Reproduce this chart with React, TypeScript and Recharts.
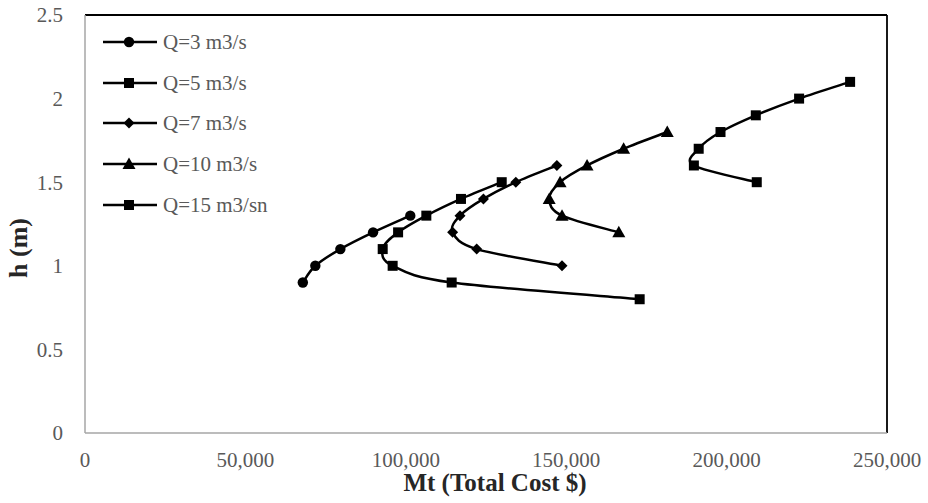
// @ts-nocheck
import React from 'react';
import {
  ScatterChart,
  Scatter,
  XAxis,
  YAxis,
  Legend,
  ReferenceLine,
} from 'recharts';

// h (m) levels and total cost readings per discharge
const q3Cost = [67900, 71800, 79600, 89800, 101400];
const q3Height = [0.9, 1.0, 1.1, 1.2, 1.3];

const q5Cost = [172900, 114300, 95900, 92800, 97600, 106400, 117200, 129900];
const q5Height = [0.8, 0.9, 1.0, 1.1, 1.2, 1.3, 1.4, 1.5];

const q7Cost = [148700, 122100, 114600, 116900, 124200, 134300, 147100];
const q7Height = [1.0, 1.1, 1.2, 1.3, 1.4, 1.5, 1.6];

const q10Cost = [166400, 148700, 144700, 148100, 156500, 167900, 181500];
const q10Height = [1.2, 1.3, 1.4, 1.5, 1.6, 1.7, 1.8];

const q15Cost = [209400, 189800, 191300, 198100, 209100, 222600, 238500];
const q15Height = [1.5, 1.6, 1.7, 1.8, 1.9, 2.0, 2.1];

const xTicks = [0, 50000, 100000, 150000, 200000, 250000];
const yTicks = [0, 0.5, 1, 1.5, 2, 2.5];

const toPoints = (cost: number[], h: number[]) => cost.map((c, i) => ({ cost: c, h: h[i] }));

const series = [
  { name: 'Q=3 m3/s', marker: 'circle', data: toPoints(q3Cost, q3Height) },
  { name: 'Q=5 m3/s', marker: 'square', data: toPoints(q5Cost, q5Height) },
  { name: 'Q=7 m3/s', marker: 'diamond', data: toPoints(q7Cost, q7Height) },
  { name: 'Q=10 m3/s', marker: 'triangle', data: toPoints(q10Cost, q10Height) },
  { name: 'Q=15 m3/sn', marker: 'square', data: toPoints(q15Cost, q15Height) },
];

const FONT = '"Liberation Serif", "Times New Roman", serif';
const GREY = '#595959';

// smoothed line like excel's scatter "smooth line" (bezier through every point)
function smoothCurve(context) {
  let pts = [];
  return {
    areaStart() {},
    areaEnd() {},
    lineStart() {
      pts = [];
    },
    point(x, y) {
      pts.push([+x, +y]);
    },
    lineEnd() {
      const n = pts.length;
      if (!n) return;
      context.moveTo(pts[0][0], pts[0][1]);
      for (let i = 0; i < n - 1; i++) {
        const p0 = pts[Math.max(i - 1, 0)];
        const p1 = pts[i];
        const p2 = pts[i + 1];
        const p3 = pts[Math.min(i + 2, n - 1)];
        context.bezierCurveTo(
          p1[0] + (p2[0] - p0[0]) / 6,
          p1[1] + (p2[1] - p0[1]) / 6,
          p2[0] - (p3[0] - p1[0]) / 6,
          p2[1] - (p3[1] - p1[1]) / 6,
          p2[0],
          p2[1]
        );
      }
    },
  };
}

const Marker = ({ kind, cx, cy }) => {
  if (cx == null || cy == null) return null;
  switch (kind) {
    case 'circle':
      return <circle cx={cx} cy={cy} r={5.2} fill="#000" />;
    case 'square':
      return <rect x={cx - 5} y={cy - 5} width={10} height={10} fill="#000" />;
    case 'diamond':
      return (
        <polygon
          points={`${cx},${cy - 5.5} ${cx + 5.5},${cy} ${cx},${cy + 5.5} ${cx - 5.5},${cy}`}
          fill="#000"
        />
      );
    default:
      return (
        <polygon points={`${cx},${cy - 6.5} ${cx + 6.5},${cy + 5} ${cx - 6.5},${cy + 5}`} fill="#000" />
      );
  }
};

const renderLegend = () => (
  <div style={{ fontFamily: FONT, fontSize: 21, color: GREY }}>
    {series.map((s) => (
      <div key={s.name} style={{ display: 'flex', alignItems: 'center', height: 40.6 }}>
        <svg width={60} height={20} style={{ display: 'block' }}>
          <line x1={0} y1={10} x2={54} y2={10} stroke="#000" strokeWidth={2.5} />
          <Marker kind={s.marker} cx={26} cy={10} />
        </svg>
        <span style={{ lineHeight: '20px', whiteSpace: 'nowrap' }}>{s.name}</span>
      </div>
    ))}
  </div>
);

const XTitle = ({ viewBox }) => (
  <text
    x={viewBox.x + viewBox.width / 2 + 9}
    y={491}
    textAnchor="middle"
    fontFamily={FONT}
    fontSize={25}
    fontWeight="bold"
    fill="#262626"
  >
    Mt (Total Cost $)
  </text>
);

const YTitle = () => (
  <text
    x={27}
    y={248}
    transform="rotate(-90, 27, 248)"
    textAnchor="middle"
    fontFamily={FONT}
    fontSize={26}
    fontWeight="bold"
    fill="#262626"
  >
    h (m)
  </text>
);

const tickStyle = { fill: GREY, fontSize: 21, fontFamily: FONT };

export default function App() {
  return (
    <div style={{ position: 'absolute', left: 0, top: 0, background: '#fff' }}>
      <ScatterChart width={928} height={503} margin={{ top: 15, right: 41, bottom: 0, left: 0 }}>
        <XAxis
          type="number"
          dataKey="cost"
          domain={[0, 250000]}
          ticks={xTicks}
          interval={0}
          tickFormatter={(v) => v.toLocaleString('en-US')}
          height={70}
          tickLine={false}
          tickSize={6}
          tickMargin={13}
          axisLine={{ stroke: '#a6a6a6', strokeWidth: 1.5 }}
          tick={tickStyle}
          label={{ content: (p) => <XTitle viewBox={p.viewBox} /> }}
        />
        <YAxis
          type="number"
          dataKey="h"
          domain={[0, 2.5]}
          ticks={yTicks}
          interval={0}
          width={85}
          tickLine={false}
          tickSize={6}
          tickMargin={16}
          axisLine={{ stroke: '#a6a6a6', strokeWidth: 1.5 }}
          tick={tickStyle}
          label={{ content: () => <YTitle /> }}
        />
        <ReferenceLine y={2.5} stroke="#000" strokeWidth={1.8} />
        <ReferenceLine x={250000} stroke="#000" strokeWidth={1.8} />
        {series.map((s) => (
          <Scatter
            key={s.name}
            name={s.name}
            data={s.data}
            fill="#000"
            line={{ stroke: '#000', strokeWidth: 2.5 }}
            lineJointType={smoothCurve}
            shape={(p) => <Marker kind={s.marker} cx={p.cx} cy={p.cy} />}
            isAnimationActive={false}
          />
        ))}
        <Legend
          layout="vertical"
          align="center"
          verticalAlign="middle"
          content={renderLegend}
          wrapperStyle={{ left: 103, top: 22, width: 260 }}
        />
      </ScatterChart>
    </div>
  );
}
